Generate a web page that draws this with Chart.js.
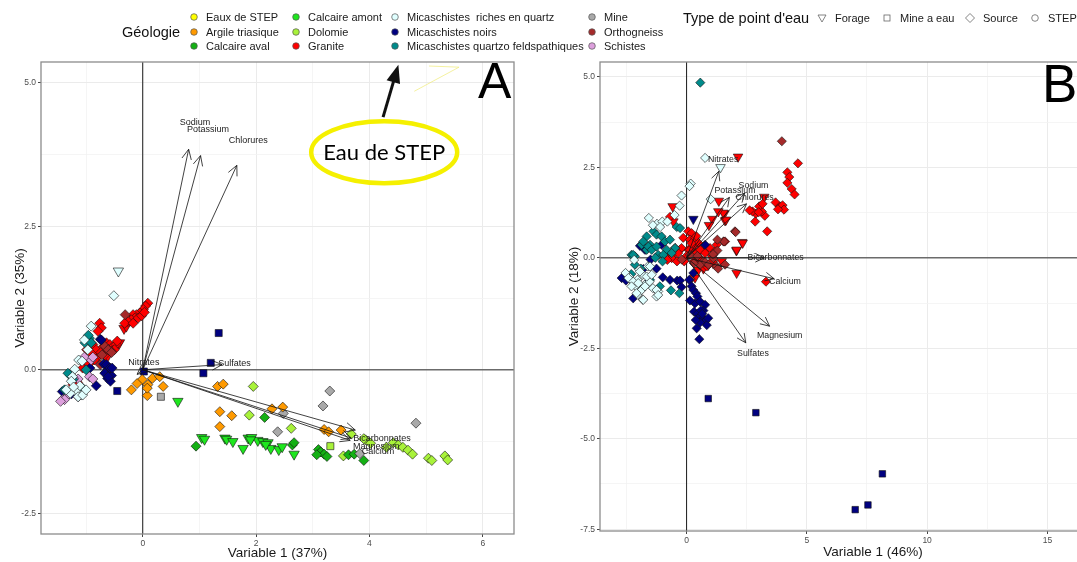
<!DOCTYPE html>
<html><head><meta charset="utf-8">
<script src="https://cdn.jsdelivr.net/npm/chart.js@4.4.1/dist/chart.umd.min.js"></script>
<style>
html,body{margin:0;padding:0;width:1077px;height:562px;overflow:hidden;background:#fff;font-family:"Liberation Sans",Arial,sans-serif;}
#wrapA{position:absolute;left:0;top:0;width:540px;height:562px;}
#wrapB{position:absolute;left:540px;top:0;width:620px;height:562px;}
.lg{position:absolute;font-size:11px;color:#1a1a1a;white-space:pre;line-height:1;transform:translateY(-50%);}
.lt{position:absolute;font-size:14.5px;color:#111;white-space:pre;line-height:1;transform:translateY(-50%);}
.sym{position:absolute;transform:translate(-50%,-50%);}
.big{position:absolute;font-size:50px;line-height:1;color:#000;}
</style></head>
<body>
<div id="wrapA"><canvas id="cA" width="540" height="562"></canvas></div>
<div id="wrapB"><canvas id="cB" width="620" height="562"></canvas></div>
<div id="legend"></div>
<div class="big" style="left:478px;top:56px;">A</div>
<div class="big" style="left:1042px;top:57px;font-size:53px;">B</div>
<script>
// ---------- categories ----------
const geolNames = ["Eaux de STEP","Argile triasique","Calcaire aval","Calcaire amont","Dolomie","Granite","Micaschistes  riches en quartz","Micaschistes noirs","Micaschistes quartzo feldspathiques","Mine","Orthogneiss","Schistes"];
const geolColors = ["#FFFF00","#FF9A00","#14B014","#1EE61E","#A8F23A","#FF0000","#E0FFFF","#000080","#008B8B","#A9A9A9","#A52A2A","#DDA0DD"];
const typeNames = ["Forage","Mine a eau","Source","STEP"];

// ---------- tick labels ----------
const A_xTicks = [0,2,4,6];
const A_yTicks = [-2.5,0,2.5,5];
const B_xTicks = [0,5,10,15];
const B_yTicks = [-7.5,-5,-2.5,0,2.5,5];

// ---------- variables (arrows) panel A ----------
const A_varNames = ["Sodium","Potassium","Chlorures","Nitrates","Sulfates","Bicarbonnates","Magnesium","Calcium"];
const A_varX = [0.81,1.02,1.66,-0.10,1.40,3.75,3.68,3.66];
const A_varY = [3.84,3.73,3.56,-0.08,0.09,-1.05,-1.19,-1.23];
const A_labX = [0.92,1.15,1.86,0.02,1.62,4.22,4.12,4.15];
const A_labY = [4.31,4.19,4.00,0.12,0.11,-1.19,-1.34,-1.43];

// ---------- variables (arrows) panel B ----------
const B_varNames = ["Nitrates","Potassium","Sodium","Chlorures","Bicarbonnates","Calcium","Magnesium","Sulfates"];
const B_varX = [1.34,1.78,2.42,2.49,3.23,3.64,3.45,2.46];
const B_varY = [2.39,1.67,1.79,1.49,0.00,-0.58,-1.89,-2.35];
const B_labX = [1.52,2.01,2.78,2.83,3.70,4.09,3.87,2.76];
const B_labY = [2.70,1.86,1.99,1.65,0.00,-0.66,-2.14,-2.66];

// ---------- panel A points ----------
const A_granite_src = [[0.09,1.16],[0.05,1.11],[0.01,1.05],[-0.05,0.99],[-0.11,0.96],[-0.17,0.96],[-0.14,0.90],[-0.20,0.87],[-0.26,0.84],[-0.32,0.81],[-0.17,0.81],[-0.08,0.90],[-0.02,0.94],[0.03,1.00],
 [-0.76,0.81],[-0.73,0.73],[-0.79,0.67],[-0.64,0.47],[-0.58,0.44],[-0.52,0.41],[-0.47,0.44],[-0.50,0.35],[-0.55,0.32],[-0.67,0.26],[-0.79,0.23],[-0.85,0.17],[-0.99,0.35],[-1.03,0.15],[-1.06,0.03],[-0.88,0.44],[-0.82,0.35],[-0.61,0.35],[-0.70,0.40],[-0.74,0.30],[-0.95,0.10],[-0.90,0.28],[-0.45,0.50],[-1.23,-0.26],[-1.15,-0.22]];
const A_granite_for = [[-0.33,0.72],[-0.43,0.45],[-0.41,0.47],[-0.64,0.20],[-0.29,0.76]];
const A_granite_mine = [[-0.18,0.90],[-0.26,0.83]];
const A_ortho_src = [[-0.31,0.96],[-0.75,0.09],[-0.67,0.41],[-0.61,0.35],[-0.72,0.26],[-0.55,0.30]];
const A_quartz_for = [[-0.43,1.72]];
const A_quartz_src = [[-0.51,1.29],[-0.91,0.76],[-0.97,0.35],[-1.13,0.17],[-1.07,0.15],[-1.20,0.01],[-1.24,-0.12],[-1.26,-0.20],[-1.11,-0.28],[-1.18,-0.38],[-1.28,-0.41],[-1.08,-0.44],[-1.35,-0.35],[-1.03,0.52],[-1.14,-0.47],[-1.06,-0.44],[-1.22,-0.30],[-1.00,-0.35]];
const A_qf_src = [[-0.99,0.55],[-0.94,0.55],[-1.02,0.47],[-0.91,0.47],[-1.28,-0.09],[-1.23,-0.17],[-1.38,-0.35],[-1.06,-0.32],[-1.32,-0.06],[-0.96,0.60],[-1.00,0.00]];
const A_schiste_src = [[-0.91,0.17],[-0.94,-0.12],[-0.88,-0.16],[-1.14,-0.16],[-1.38,-0.49],[-1.32,-0.44],[-1.22,-0.15],[-1.38,-0.52],[-1.14,-0.47],[-1.03,0.22],[-0.88,0.22],[-1.45,-0.55]];
const A_noir_src = [[-0.75,0.53],[-0.93,0.03],[-0.82,-0.28],[-0.69,0.10],[-0.60,0.00],[-0.55,-0.10],[-0.62,-0.15],[-0.57,-0.20],[-0.66,-0.05],[-1.42,-0.38],[-1.26,-0.42],[-0.64,0.09],[-0.58,0.03],[-0.54,0.03],[-0.67,-0.06],[-0.61,-0.12],[-0.73,0.52]];
const A_noir_mine = [[1.34,0.64],[1.20,0.12],[1.07,-0.06],[0.02,-0.03],[-0.45,-0.37]];
const A_argile_src = [[0.17,-0.15],[0.30,-0.12],[-0.01,-0.17],[0.09,-0.26],[0.36,-0.29],[-0.20,-0.35],[0.08,-0.45],[-0.10,-0.24],[0.08,-0.32],[1.32,-0.29],[1.42,-0.25],[1.36,-0.73],[1.57,-0.80],[1.36,-0.99],[2.28,-0.68],[2.47,-0.65],[3.20,-1.04],[3.28,-1.08],[3.50,-1.05]];
const A_mine_mine = [[0.32,-0.47]];
const A_mine_src = [[2.48,-0.76],[2.38,-1.08],[3.18,-0.63],[3.30,-0.37],[4.82,-0.93],[3.83,-1.46]];
const A_amont_for = [[0.62,-0.55],[1.04,-1.18],[1.09,-1.21],[1.45,-1.19],[1.48,-1.21],[1.59,-1.25],[1.77,-1.37],[1.86,-1.19],[1.92,-1.18],[2.03,-1.23],[2.12,-1.25],[2.21,-1.27],[2.26,-1.37],[2.40,-1.39],[2.46,-1.34],[2.67,-1.47],[2.17,-1.30],[1.90,-1.22]];
const A_aval_src = [[0.94,-1.33],[2.15,-0.83],[2.64,-1.31],[2.67,-1.27],[3.10,-1.39],[3.14,-1.43],[3.20,-1.47],[3.07,-1.48],[3.25,-1.51],[3.63,-1.48],[3.73,-1.47],[3.90,-1.58]];
const A_dolo_src = [[1.95,-0.29],[1.88,-0.79],[2.62,-1.02],[3.68,-1.12],[3.54,-1.50],[3.93,-1.22],[4.02,-1.28],[4.42,-1.27],[4.51,-1.31],[4.59,-1.35],[4.68,-1.40],[4.76,-1.47],[5.04,-1.54],[5.10,-1.58],[5.33,-1.50],[5.38,-1.57],[3.90,-1.20],[4.30,-1.35]];
const A_dolo_mine = [[3.31,-1.33]];
const A_step_trace = [[4.79,4.85],[5.58,5.27],[5.05,5.29]];

// ---------- panel B points ----------
const B_qf_src = [[0.57,4.84],[-2.29,0.08],[-2.15,0.04],[-1.87,0.36],[-1.52,0.36],[-1.66,0.22],[-1.18,0.08],[-2.15,-0.19],[-1.52,-0.61],[-1.11,-0.79],[-0.65,-0.90],[-0.30,-0.98],[-1.38,0.73],[-1.25,0.64],[-1.04,0.59],[-0.90,0.45],[-0.69,0.50],[-1.66,0.59],[-1.80,0.45],[-1.59,0.31],[-1.45,0.22],[-1.25,0.31],[-0.83,0.22],[-0.48,0.27],[-0.62,0.13],[-2.22,0.08],[-0.41,0.85],[-0.27,0.82],[-0.97,0.08],[-1.30,0.00],[-1.00,-0.10],[-1.90,-0.30],[-2.30,-0.45]];
const B_quartz_src = [[0.77,2.76],[0.17,2.05],[0.12,1.98],[-0.21,1.72],[-0.29,1.44],[1.00,1.62],[-1.57,1.10],[-1.23,0.94],[-1.01,1.00],[-0.80,1.00],[-0.50,1.18],[-2.18,-0.06],[-1.97,-0.33],[-2.39,-0.52],[-2.25,-0.66],[-2.04,-0.61],[-1.82,-0.47],[-2.11,-0.79],[-1.90,-0.89],[-1.75,-0.75],[-1.82,-1.16],[-1.54,-0.66],[-1.40,-0.84],[-1.25,-1.07],[-1.18,-0.93],[-1.61,-0.24],[-2.54,-0.42],[-2.04,-1.02],[-2.42,-0.56],[-2.22,-0.66],[-2.01,-0.70],[-1.87,-0.89],[-1.80,-1.16],[-2.08,-0.98],[-2.29,-0.79],[-1.66,-0.52],[-1.45,-0.47],[-1.25,-0.89],[-1.18,-1.03],[-1.52,-0.24],[-1.94,-0.38],[-1.73,-0.79],[-1.40,0.90],[-1.10,0.85]];
const B_quartz_for = [[1.41,2.50]];
const B_noir_for = [[0.28,1.07]];
const B_noir_src = [[-1.94,0.33],[-1.73,0.22],[-1.04,0.36],[0.77,0.36],[-2.70,-0.56],[-2.52,-0.63],[-2.22,-1.12],[-1.59,-0.66],[-1.80,-0.31],[-0.99,-0.54],[-0.69,-0.61],[-0.39,-0.63],[-0.27,-0.63],[-0.21,-0.81],[0.11,-0.61],[0.21,-0.79],[0.28,-0.89],[0.39,-0.98],[0.45,-1.07],[0.35,-1.26],[0.56,-1.21],[0.77,-1.30],[0.31,-1.49],[0.45,-1.55],[0.56,-1.62],[0.70,-1.67],[0.77,-1.76],[0.84,-1.86],[0.90,-1.67],[0.56,-1.79],[0.42,-1.95],[0.53,-2.25],[0.70,-1.46],[0.14,-1.18],[0.28,-0.42],[-1.25,-0.30],[-1.50,-0.05],[0.60,-1.45],[0.65,-1.55],[0.38,-1.72]];
const B_noir_mine = [[0.90,-3.89],[2.88,-4.28],[7.01,-6.96],[7.54,-6.83],[8.14,-5.97]];
const B_ortho_src = [[3.96,3.22],[2.01,0.73],[1.56,0.45],[1.11,0.08],[0.70,-0.10],[1.11,-0.01],[1.25,-0.24],[0.14,0.08],[2.04,0.71],[1.28,0.50],[1.28,0.20],[1.10,0.10],[0.77,-0.12],[0.91,-0.19],[1.60,-0.19],[1.31,-0.30],[0.17,-0.59],[0.55,-0.20],[0.30,-0.15],[-0.20,-0.05],[0.45,0.05]];
const B_granite_src = [[4.63,2.61],[4.19,2.36],[4.27,2.23],[4.19,2.07],[4.37,1.90],[4.49,1.75],[3.70,1.53],[3.88,1.42],[3.99,1.45],[4.05,1.33],[3.80,1.34],[3.35,0.73],[3.25,1.16],[3.13,1.28],[3.02,1.42],[2.88,1.22],[2.74,1.28],[2.62,1.31],[2.85,1.00],[3.00,1.26],[3.16,1.49],[-0.14,0.55],[0.07,0.73],[0.21,0.68],[0.14,0.50],[0.35,0.55],[0.49,0.41],[0.28,0.31],[0.07,0.22],[-0.27,0.22],[-0.48,0.13],[-0.69,0.08],[-0.90,0.04],[0.63,0.22],[0.84,0.22],[0.97,0.27],[1.18,0.18],[1.53,0.45],[-0.69,1.13],[-0.21,0.27],[-0.35,0.13],[-0.62,-0.01],[-0.80,-0.06],[-0.48,0.27],[0.14,0.22],[0.39,0.13],[0.56,0.22],[0.77,0.13],[0.84,-0.24],[0.97,-0.15],[1.25,0.36],[1.60,0.45],[3.30,-0.66],[0.00,0.05],[-0.10,-0.10],[0.30,-0.10],[0.50,0.00],[-0.40,-0.10],[0.20,0.40],[0.40,0.60],[0.60,-0.05],[1.05,0.05]];
const B_granite_for = [[2.14,2.79],[1.34,1.57],[3.23,1.68],[1.57,1.22],[1.07,1.07],[0.93,0.90],[2.31,0.43],[2.07,0.20],[-0.58,1.42],[1.60,1.03],[0.49,-0.33],[2.08,-0.42],[1.46,-0.10],[2.33,0.41],[-0.55,1.00],[2.08,0.22],[1.64,1.05],[1.53,1.24],[1.32,1.28],[0.70,-0.30],[1.10,-0.15],[0.35,-0.55],[0.90,-0.20]];

// ---------- helpers ----------
Chart.defaults.font.family = '"Liberation Sans", Arial, sans-serif';
const STYLE = {"Forage":{ps:'triangle',rot:180,k:1.2},"Mine a eau":{ps:'rect',rot:0,k:1.0},"Source":{ps:'rectRot',rot:0,k:1.0},"STEP":{ps:'circle',rot:0,k:0.8}};
function ds(pts, geol, type, r){
  const s = STYLE[type];
  return {label: geol+' / '+type, data: pts.map(p=>({x:p[0],y:p[1]})), pointStyle:s.ps, rotation:s.rot,
    pointRadius:r*s.k, backgroundColor: geolColors[geolNames.indexOf(geol)], borderColor:'#111', borderWidth:0.6, showLine:false};
}
function axis(min,max,majors,minorStep,fmt,title,size,titlePad,horizontal){
  const vals=[]; const start=Math.ceil(min/minorStep)*minorStep;
  for(let v=start; v<=max+1e-9; v+=minorStep) vals.push(Math.round(v*1000)/1000);
  const maj = v => majors.some(m=>Math.abs(m-v)<1e-6);
  return {type:'linear', min, max,
    afterBuildTicks: s => { s.ticks = vals.map(v=>({value:v})); },
    afterFit: s => { if(horizontal) s.height=size; else s.width=size; },
    ticks:{autoSkip:false, maxRotation:0, padding:2, color:'#4d4d4d', font:{size:8.5},
      callback: v => maj(v) ? fmt(v) : ''},
    grid:{color: c => (c.tick && maj(c.tick.value)) ? '#EBEBEB' : '#F3F3F3',
      lineWidth: c => (c.tick && maj(c.tick.value)) ? 1 : 0.8,
      tickColor: c => (c.tick && maj(c.tick.value)) ? '#444' : 'rgba(0,0,0,0)',
      tickLength:3},
    border:{display:false},
    title:{display:true, text:title, color:'#1a1a1a', font:{size:13.5}, padding:titlePad}
  };
}
function drawArrow(ctx,x0,y0,x1,y1,len,ang){
  ctx.beginPath(); ctx.moveTo(x0,y0); ctx.lineTo(x1,y1); ctx.stroke();
  const a=Math.atan2(y1-y0,x1-x0);
  ctx.beginPath();
  ctx.moveTo(x1-len*Math.cos(a-ang), y1-len*Math.sin(a-ang));
  ctx.lineTo(x1,y1);
  ctx.lineTo(x1-len*Math.cos(a+ang), y1-len*Math.sin(a+ang));
  ctx.stroke();
}
const panelPlugin = {
  id:'panel',
  beforeDatasetsDraw(chart,args,o){
    const {ctx, chartArea:a, scales:{x,y}} = chart;
    ctx.save();
    ctx.beginPath(); ctx.rect(a.left,a.top,a.right-a.left,a.bottom-a.top); ctx.clip();
    const y0=y.getPixelForValue(0), x0=x.getPixelForValue(0);
    ctx.strokeStyle='#6b6b6b'; ctx.lineWidth=1.5;
    ctx.beginPath(); ctx.moveTo(a.left,y0); ctx.lineTo(a.right,y0); ctx.stroke();
    ctx.strokeStyle='#1a1a1a'; ctx.lineWidth=1;
    ctx.beginPath(); ctx.moveTo(x0,a.top); ctx.lineTo(x0,a.bottom); ctx.stroke();
    ctx.restore();
  },
  afterDatasetsDraw(chart,args,o){
    const {ctx, chartArea:a, scales:{x,y}} = chart;
    ctx.save();
    const ox=x.getPixelForValue(0), oy=y.getPixelForValue(0);
    ctx.strokeStyle='#111'; ctx.lineWidth=0.8;
    for(let i=0;i<o.vx.length;i++){
      drawArrow(ctx,ox,oy,x.getPixelForValue(o.vx[i]),y.getPixelForValue(o.vy[i]),o.head,Math.PI/7);
    }
    ctx.fillStyle='#222'; ctx.font=o.labFont+'px "Liberation Sans", Arial, sans-serif';
    ctx.textAlign='center'; ctx.textBaseline='middle';
    for(let i=0;i<o.names.length;i++){
      ctx.fillText(o.names[i], x.getPixelForValue(o.lx[i]), y.getPixelForValue(o.ly[i]));
    }
    if(o.note){
      const n=o.note;
      const cx=x.getPixelForValue(n.x), cy=y.getPixelForValue(n.y);
      ctx.strokeStyle='#F5F000'; ctx.lineWidth=4.5;
      ctx.beginPath(); ctx.ellipse(cx,cy,n.rx,n.ry,0,0,Math.PI*2); ctx.stroke();
      ctx.fillStyle='#000'; ctx.font='22px Lato, "Liberation Sans", sans-serif';
      ctx.fillText(n.text,cx,cy+1);
      const x1=x.getPixelForValue(n.ax0), y1=y.getPixelForValue(n.ay0), x2=x.getPixelForValue(n.ax1), y2=y.getPixelForValue(n.ay1);
      const ang=Math.atan2(y2-y1,x2-x1);
      ctx.strokeStyle='#111'; ctx.lineWidth=3;
      ctx.beginPath(); ctx.moveTo(x1,y1); ctx.lineTo(x2-14*Math.cos(ang),y2-14*Math.sin(ang)); ctx.stroke();
      ctx.fillStyle='#111'; ctx.beginPath();
      ctx.moveTo(x2,y2);
      ctx.lineTo(x2-18*Math.cos(ang)+7*Math.sin(ang), y2-18*Math.sin(ang)-7*Math.cos(ang));
      ctx.lineTo(x2-18*Math.cos(ang)-7*Math.sin(ang), y2-18*Math.sin(ang)+7*Math.cos(ang));
      ctx.closePath(); ctx.fill();
    }
    ctx.strokeStyle='#8c8c8c'; ctx.lineWidth=1.3;
    ctx.strokeRect(a.left,a.top,a.right-a.left,a.bottom-a.top);
    ctx.restore();
  }
};

// ---------- Chart A ----------
const RA = 5.0;
const dsA = [
  ds(A_quartz_src,"Micaschistes  riches en quartz","Source",RA),
  ds(A_quartz_for,"Micaschistes  riches en quartz","Forage",RA),
  ds(A_qf_src,"Micaschistes quartzo feldspathiques","Source",RA),
  ds(A_schiste_src,"Schistes","Source",RA),
  ds(A_noir_src,"Micaschistes noirs","Source",RA),
  ds(A_ortho_src,"Orthogneiss","Source",RA),
  ds(A_granite_src,"Granite","Source",RA),
  ds(A_granite_for,"Granite","Forage",RA),
  ds(A_granite_mine,"Granite","Mine a eau",RA),
  ds(A_argile_src,"Argile triasique","Source",RA),
  ds(A_mine_src,"Mine","Source",RA),
  ds(A_mine_mine,"Mine","Mine a eau",RA),
  ds(A_amont_for,"Calcaire amont","Forage",RA),
  ds(A_aval_src,"Calcaire aval","Source",RA),
  ds(A_dolo_src,"Dolomie","Source",RA),
  ds(A_dolo_mine,"Dolomie","Mine a eau",RA),
  ds(A_noir_mine,"Micaschistes noirs","Mine a eau",RA),
  {label:"Eaux de STEP", data:A_step_trace.map(p=>({x:p[0],y:p[1]})), showLine:true, borderColor:'rgba(240,235,120,0.7)', borderWidth:1, pointRadius:0, fill:false}
];
new Chart(document.getElementById('cA'), {
  type:'scatter',
  data:{datasets:dsA},
  options:{responsive:false, animation:false, events:[],
    layout:{padding:{left:0,top:62,right:26,bottom:0}},
    scales:{
      x: axis(-1.795,6.55,A_xTicks,1,v=>String(v),'Variable 1 (37%)',28,{top:0,bottom:1},true),
      y: axis(-2.86,5.36,A_yTicks,1.25,v=>v.toFixed(1),'Variable 2 (35%)',41,{top:12,bottom:0},false)
    },
    plugins:{legend:{display:false}, tooltip:{enabled:false},
      panel:{vx:A_varX, vy:A_varY, names:A_varNames, lx:A_labX, ly:A_labY, head:11, labFont:9,
        note:{x:4.26,y:3.79,rx:73,ry:31,text:'Eau de STEP',ax0:4.24,ay0:4.40,ax1:4.51,ay1:5.31}}}
  },
  plugins:[panelPlugin]
});

// ---------- Chart B ----------
const RB = 4.6;
const dsB = [
  ds(B_quartz_src,"Micaschistes  riches en quartz","Source",RB),
  ds(B_quartz_for,"Micaschistes  riches en quartz","Forage",RB),
  ds(B_qf_src,"Micaschistes quartzo feldspathiques","Source",RB),
  ds(B_noir_src,"Micaschistes noirs","Source",RB),
  ds(B_noir_for,"Micaschistes noirs","Forage",RB),
  ds(B_ortho_src,"Orthogneiss","Source",RB),
  ds(B_granite_src,"Granite","Source",RB),
  ds(B_granite_for,"Granite","Forage",RB),
  ds(B_noir_mine,"Micaschistes noirs","Mine a eau",RB)
];
new Chart(document.getElementById('cB'), {
  type:'scatter',
  data:{datasets:dsB},
  options:{responsive:false, animation:false, events:[],
    layout:{padding:{left:0,top:62,right:14,bottom:0}},
    scales:{
      x: axis(-3.6,19.1,B_xTicks,2.5,v=>String(v),'Variable 1 (46%)',31,{top:0,bottom:2},true),
      y: axis(-7.55,5.41,B_yTicks,1.25,v=>v.toFixed(1),'Variable 2 (18%)',60,{top:26,bottom:0},false)
    },
    plugins:{legend:{display:false}, tooltip:{enabled:false},
      panel:{vx:B_varX, vy:B_varY, names:B_varNames, lx:B_labX, ly:B_labY, head:10, labFont:8.8}}
  },
  plugins:[panelPlugin]
});

// ---------- Legend (HTML) ----------
(function(){
  const L = document.getElementById('legend');
  const colX = [194,296,395,592], rowY = [17,31.5,46];
  let h = '<div class="lt" style="left:122px;top:32px;">Géologie</div>';
  geolNames.forEach((g,i)=>{
    const c=Math.floor(i/3), r=i%3;
    h += `<svg class="sym" width="10" height="10" style="left:${colX[c]}px;top:${rowY[r]}px"><circle cx="5" cy="5" r="3.3" fill="${geolColors[i]}" stroke="#555" stroke-width="0.7"/></svg>`;
    h += `<div class="lg" style="left:${colX[c]+12}px;top:${rowY[r]}px;">${g}</div>`;
  });
  h += '<div class="lt" style="left:683px;top:18px;">Type de point d\'eau</div>';
  const symX=[822,887,970,1035], y0=18;
  const shapes = [
    '<polygon points="1,2 9,2 5,9" fill="none" stroke="#666" stroke-width="0.8"/>',
    '<rect x="2" y="2" width="6" height="6" fill="none" stroke="#666" stroke-width="0.8"/>',
    '<polygon points="5,0.5 9.5,5 5,9.5 0.5,5" fill="none" stroke="#666" stroke-width="0.8"/>',
    '<circle cx="5" cy="5" r="3.3" fill="none" stroke="#666" stroke-width="0.8"/>'
  ];
  typeNames.forEach((t,i)=>{
    h += `<svg class="sym" width="10" height="10" style="left:${symX[i]}px;top:${y0}px">${shapes[i]}</svg>`;
    h += `<div class="lg" style="left:${symX[i]+13}px;top:${y0}px;">${t}</div>`;
  });
  L.innerHTML = h;
})();
</script>
</body></html>
